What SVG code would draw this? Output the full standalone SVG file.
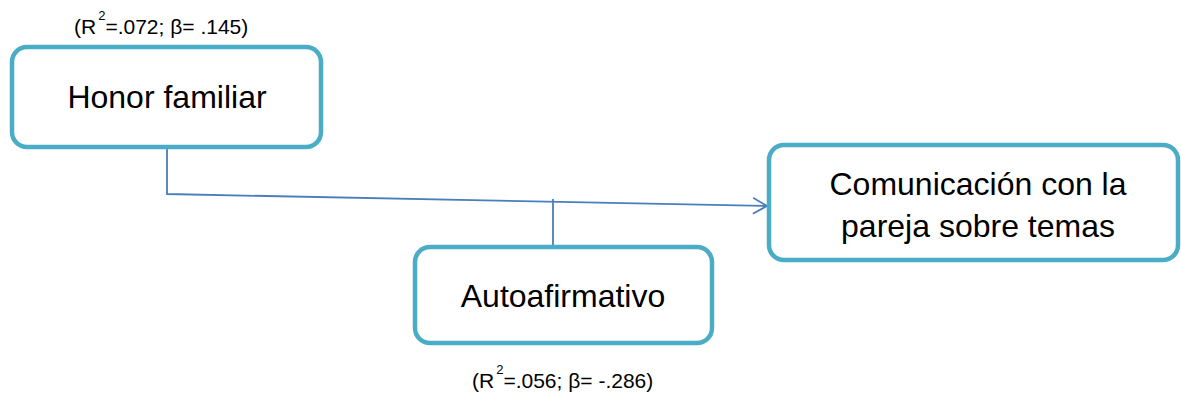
<svg xmlns="http://www.w3.org/2000/svg" width="1181" height="394" viewBox="0 0 1181 394">
<style>
.box{fill:#fff;stroke:#4BACC6;stroke-width:4.5}
.t{font-family:"Liberation Sans",Arial,sans-serif;font-size:32px;fill:#000;text-anchor:middle}
.s{font-family:"Liberation Sans",Arial,sans-serif;font-size:21px;fill:#000}
.sup{font-size:13px}
.c{fill:none;stroke:#4A7EBB;stroke-width:1.8}
</style>
<defs>
<marker id="arr" viewBox="0 0 16 20" refX="15" refY="10" markerWidth="16" markerHeight="20" markerUnits="userSpaceOnUse" orient="auto">
<path d="M1 2 L15 10 L1 18" fill="none" stroke="#4A7EBB" stroke-width="1.8"/>
</marker>
</defs>
<g id="connectors">
<path class="c" d="M167 148 V194 L767 206" marker-end="url(#arr)"/>
<path class="c" d="M553 199 V246"/>
</g>
<g id="honor">
<rect class="box" x="12" y="47" width="309" height="100" rx="15"/>
<text class="t" x="167" y="108">Honor familiar</text>
<text class="s" x="74" y="34">(R<tspan class="sup" dx="2" dy="-14">2</tspan><tspan dy="14">=.072; β= .145)</tspan></text>
</g>
<g id="comunicacion">
<rect class="box" x="769" y="145" width="409" height="115" rx="15"/>
<text class="t" x="978" y="195">Comunicación con la</text>
<text class="t" x="978" y="237">pareja sobre temas</text>
</g>
<g id="autoafirmativo">
<rect class="box" x="415" y="247" width="297" height="96" rx="15"/>
<text class="t" x="563" y="307">Autoafirmativo</text>
<text class="s" x="472" y="388">(R<tspan class="sup" dx="2" dy="-14">2</tspan><tspan dy="14">=.056; β= -.286)</tspan></text>
</g>
</svg>
